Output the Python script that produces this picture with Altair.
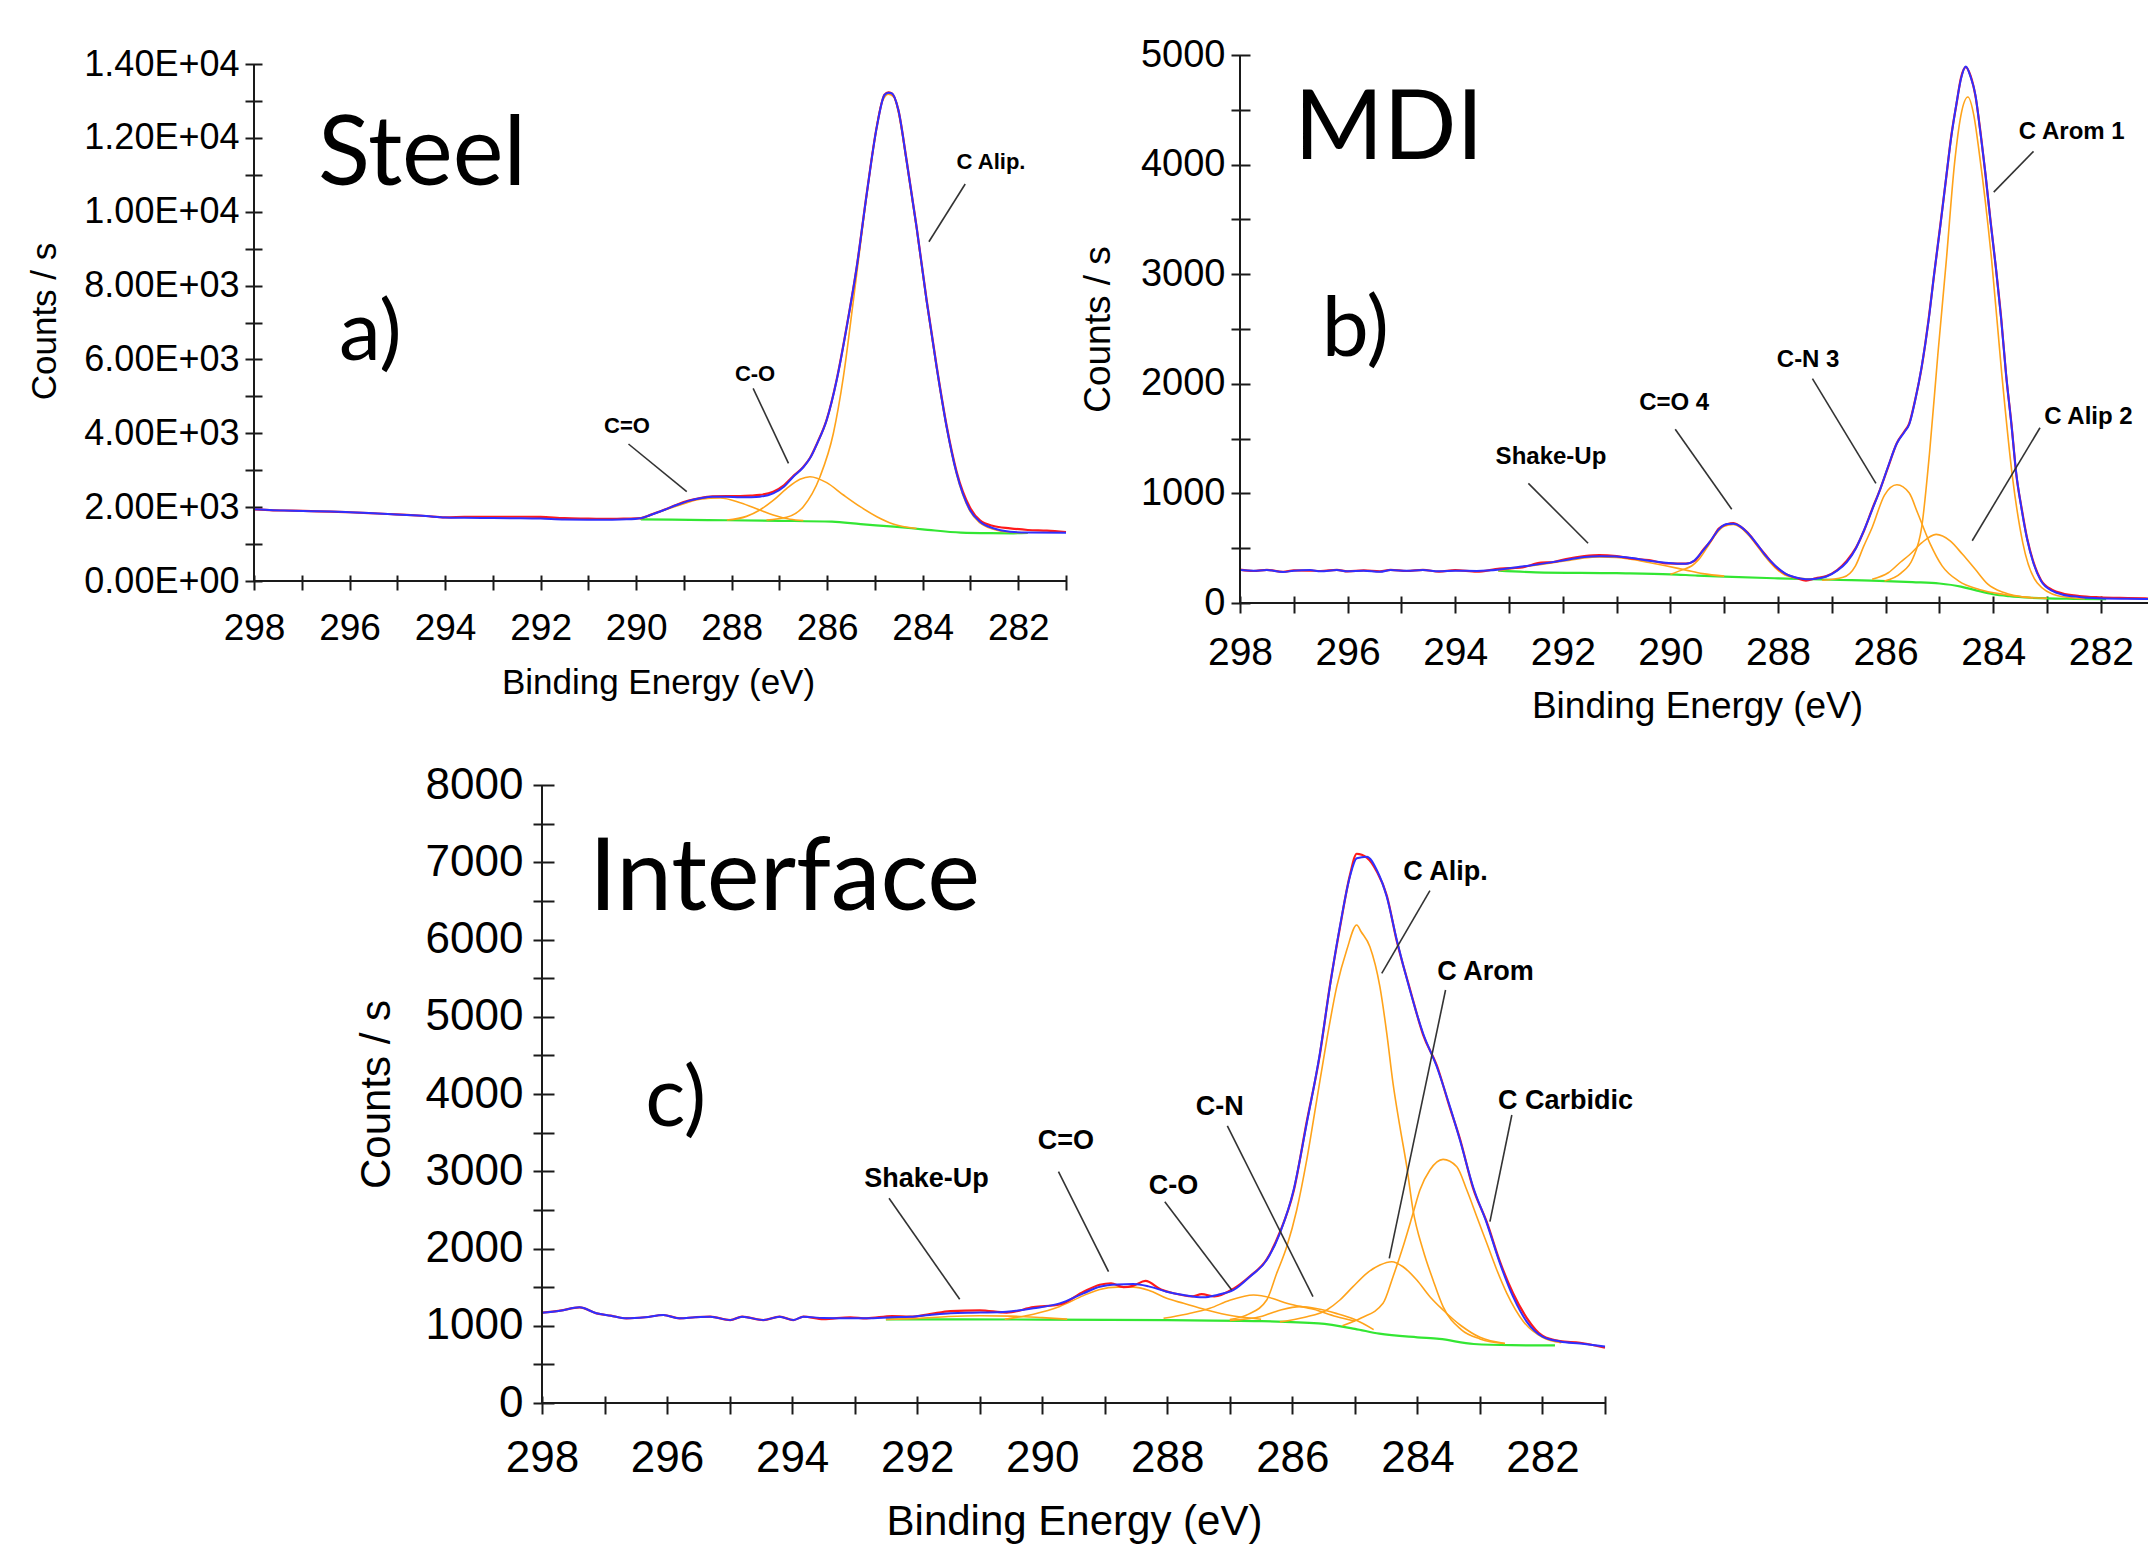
import altair as alt
import pandas as pd

# ======================= Panel a : Steel =======================
A_ENVELOPE = [(298.0, 1941), (297.6, 1915), (297.2, 1905), (296.8, 1890), (296.4, 1880), (296.0, 1862),
              (295.6, 1840), (295.2, 1814), (294.8, 1790), (294.4, 1760), (294.0, 1718), (293.6, 1710),
              (293.0, 1705), (292.5, 1700), (292.0, 1690), (291.5, 1665), (291.0, 1660), (290.5, 1662),
              (290.2, 1670), (289.9, 1700), (289.7, 1787), (289.4, 1930), (289.15, 2058), (288.9, 2170),
              (288.66, 2239), (288.4, 2283), (288.1, 2280), (287.82, 2266), (287.6, 2270), (287.41, 2283),
              (287.13, 2373), (286.9, 2560), (286.71, 2825), (286.5, 3080), (286.36, 3321), (286.2, 3750),
              (286.01, 4360), (285.8, 5443), (285.59, 6887), (285.38, 8511), (285.17, 10498), (284.96, 12303),
              (284.8, 13160), (284.72, 13220), (284.65, 13206), (284.51, 12754), (284.34, 11400), (284.13, 9594),
              (283.92, 7609), (283.71, 5803), (283.5, 4178), (283.29, 2916), (283.01, 1923), (282.8, 1606),
              (282.52, 1427), (282.17, 1336), (281.8, 1310), (281.0, 1305)]
A_RAW = [(298.0, 1941), (297.6, 1915), (297.2, 1905), (296.8, 1890), (296.4, 1880), (296.0, 1862),
         (295.6, 1840), (295.2, 1814), (294.8, 1790), (294.4, 1760), (294.0, 1725), (293.6, 1735),
         (293.0, 1740), (292.5, 1740), (292.0, 1735), (291.5, 1700), (291.0, 1690), (290.5, 1680),
         (290.2, 1690), (289.9, 1705), (289.7, 1790), (289.4, 1935), (289.15, 2065), (288.9, 2175),
         (288.66, 2245), (288.4, 2290), (288.1, 2300), (287.82, 2300), (287.6, 2310), (287.41, 2330),
         (287.13, 2420), (286.9, 2600), (286.71, 2840), (286.5, 3090), (286.36, 3330), (286.2, 3760),
         (286.01, 4370), (285.8, 5460), (285.59, 6900), (285.38, 8520), (285.17, 10510), (284.96, 12310),
         (284.8, 13170), (284.72, 13230), (284.65, 13210), (284.51, 12760), (284.34, 11420), (284.13, 9610),
         (283.92, 7630), (283.71, 5830), (283.5, 4210), (283.29, 2960), (283.01, 1990), (282.8, 1640),
         (282.52, 1489), (282.17, 1427), (281.8, 1381), (281.4, 1363), (281.0, 1327)]
A_BACKGROUND = [(289.9, 1670), (288.5, 1650), (287.0, 1630), (285.9, 1606), (285.3, 1540), (284.6, 1470),
                (284.0, 1400), (283.2, 1310), (282.6, 1295), (282.1, 1292), (281.8, 1300)]
A_COMP_C_DOUBLE_O = [(289.92, 1670), (289.5, 1877), (289.08, 2058), (288.66, 2212), (288.24, 2248),
                     (287.82, 2121), (287.41, 1923), (287.13, 1787), (286.78, 1670), (286.5, 1634)]
A_COMP_C_O = [(288.1, 1650), (287.69, 1750), (287.41, 1923), (287.13, 2180), (286.85, 2500), (286.57, 2753),
              (286.36, 2825), (286.01, 2663), (285.66, 2329), (285.31, 2013), (284.96, 1742), (284.62, 1544),
              (284.13, 1420)]
A_COMP_C_ALIP = [(287.27, 1652), (286.85, 1724), (286.5, 2013), (286.15, 2825), (285.87, 4000), (285.66, 5533),
                 (285.45, 7609), (285.24, 9775), (285.03, 11760), (284.86, 12935), (284.72, 13180), (284.6, 13100),
                 (284.51, 12700), (284.34, 11350), (284.13, 9540), (283.92, 7560), (283.71, 5760), (283.5, 4140),
                 (283.29, 2880), (283.01, 1890), (282.8, 1570), (282.52, 1400), (282.17, 1320), (281.8, 1305)]
A_NOTES = [("C Alip.", 282.57, 11346), ("C-O", 287.51, 5605), ("C=O", 290.19, 4197)]
A_LEADERS = [(283.11, 10750, 283.87, 9188), (287.55, 5218, 286.81, 3187), (290.16, 3710, 288.94, 2418)]
A_NAME = [("Steel", 296.66, 10723)]
A_TAG = [("a)", 296.22, 5984)]
A_X_TICKS = [298, 297, 296, 295, 294, 293, 292, 291, 290, 289, 288, 287, 286, 285, 284, 283, 282, 281]
A_X_LABELED = [298, 296, 294, 292, 290, 288, 286, 284, 282]
A_X_LABELS = ["298", "296", "294", "292", "290", "288", "286", "284", "282"]
A_Y_TICKS = [0, 1000, 2000, 3000, 4000, 5000, 6000, 7000, 8000, 9000, 10000, 11000, 12000, 13000, 14000]
A_Y_LABELED = [0, 2000, 4000, 6000, 8000, 10000, 12000, 14000]
A_Y_LABELS = ["0.00E+00", "2.00E+03", "4.00E+03", "6.00E+03", "8.00E+03", "1.00E+04", "1.20E+04", "1.40E+04"]

# ======================= Panel b : MDI =======================
B_ENVELOPE = [(298.0, 300), (297.75, 295), (297.5, 300), (297.2, 282), (297.0, 295), (296.7, 300), (296.5, 290),
              (296.2, 300), (296.0, 290), (295.7, 295), (295.4, 285), (295.2, 300), (294.9, 295), (294.6, 300),
              (294.3, 290), (294.0, 295), (293.6, 292), (293.17, 305), (292.8, 330), (292.4, 357), (291.94, 392),
              (291.6, 420), (291.32, 427), (291.0, 425), (290.71, 410), (290.4, 385), (290.09, 368), (289.71, 357),
              (289.55, 390), (289.4, 473), (289.25, 570), (289.1, 672), (288.95, 720), (288.83, 723), (288.7, 700),
              (288.56, 637), (288.4, 545), (288.25, 444), (288.05, 340), (287.87, 270), (287.65, 230), (287.48, 217),
              (287.3, 222), (287.1, 242), (286.9, 295), (286.72, 374), (286.55, 500), (286.41, 654), (286.25, 850),
              (286.1, 1038), (285.95, 1250), (285.79, 1457), (285.65, 1560), (285.56, 1631), (285.45, 1850),
              (285.33, 2155), (285.2, 2580), (285.1, 2994), (284.98, 3450), (284.87, 3901), (284.78, 4250),
              (284.68, 4565), (284.6, 4780), (284.51, 4896), (284.42, 4800), (284.33, 4634), (284.24, 4300),
              (284.14, 3901), (284.05, 3480), (283.95, 3063), (283.85, 2580), (283.76, 2086), (283.66, 1620),
              (283.57, 1178), (283.47, 850), (283.37, 584), (283.25, 360), (283.11, 200), (282.9, 110),
              (282.72, 78), (282.4, 55), (282.03, 43), (281.5, 38), (281.0, 35)]
B_RAW = [(298.0, 305), (297.75, 292), (297.5, 302), (297.2, 285), (297.0, 298), (296.7, 296), (296.5, 292),
         (296.2, 303), (296.0, 288), (295.7, 297), (295.4, 288), (295.2, 302), (294.9, 292), (294.6, 303),
         (294.3, 286), (294.0, 300), (293.6, 285), (293.17, 315), (292.8, 322), (292.4, 368), (292.2, 372),
         (291.94, 401), (291.6, 428), (291.32, 438), (291.0, 428), (290.71, 405), (290.4, 392), (290.09, 362),
         (289.71, 360), (289.55, 385), (289.4, 480), (289.25, 566), (289.1, 680), (288.95, 718), (288.83, 730),
         (288.7, 698), (288.56, 640), (288.4, 540), (288.25, 450), (288.05, 335), (287.87, 268), (287.65, 228),
         (287.48, 205), (287.3, 225), (287.1, 245), (286.9, 300), (286.72, 385), (286.55, 505), (286.41, 650),
         (286.25, 856), (286.1, 1040), (285.95, 1245), (285.79, 1460), (285.65, 1566), (285.56, 1640),
         (285.45, 1855), (285.33, 2150), (285.2, 2590), (285.1, 2990), (284.98, 3460), (284.87, 3895),
         (284.78, 4260), (284.68, 4560), (284.6, 4790), (284.51, 4890), (284.42, 4810), (284.33, 4625),
         (284.24, 4310), (284.14, 3890), (284.05, 3490), (283.95, 3055), (283.85, 2590), (283.76, 2080),
         (283.66, 1630), (283.57, 1170), (283.47, 860), (283.37, 590), (283.25, 370), (283.11, 208),
         (282.9, 120), (282.72, 88), (282.4, 64), (282.03, 52), (281.5, 45), (281.0, 40)]
B_BACKGROUND = [(293.2, 295), (292.5, 280), (291.0, 272), (290.0, 262), (289.5, 250), (289.0, 240), (288.0, 225),
                (287.0, 212), (286.0, 200), (285.5, 190), (285.0, 178), (284.6, 150), (284.3, 113), (284.0, 80),
                (283.7, 62), (283.3, 48), (283.0, 42), (282.5, 38), (281.9, 35)]
B_COMP_SHAKE_UP = [(293.2, 295), (292.8, 325), (292.4, 352), (291.94, 385), (291.6, 412), (291.32, 420),
                   (291.0, 415), (290.71, 398), (290.4, 370), (290.09, 340), (289.71, 300), (289.4, 268),
                   (289.0, 245)]
B_COMP_C_DOUBLE_O = [(290.0, 262), (289.79, 300), (289.6, 340), (289.48, 392), (289.3, 520), (289.17, 619),
                     (289.0, 700), (288.83, 716), (288.7, 690), (288.56, 625), (288.4, 530), (288.25, 430),
                     (288.05, 320), (287.87, 255), (287.6, 225), (287.33, 217)]
B_COMP_C_N = [(287.18, 207), (286.79, 234), (286.56, 339), (286.41, 514), (286.25, 689), (286.02, 985),
              (285.79, 1079), (285.56, 1003), (285.41, 828), (285.18, 549), (284.95, 339), (284.64, 200),
              (284.26, 123), (283.8, 78), (283.3, 50)]
B_COMP_C_ALIP = [(286.25, 217), (285.95, 276), (285.72, 374), (285.56, 438), (285.33, 549), (285.06, 626),
                 (284.8, 567), (284.57, 444), (284.33, 305), (284.1, 172), (283.8, 95), (283.41, 53), (283.0, 42)]
B_COMP_C_AROM = [(286.02, 200), (285.72, 270), (285.49, 410), (285.33, 689), (285.18, 1387), (285.03, 2260),
                 (284.87, 3133), (284.72, 4005), (284.6, 4450), (284.47, 4617), (284.36, 4450), (284.26, 4110),
                 (284.03, 3133), (283.84, 2086), (283.64, 1142), (283.45, 549), (283.18, 182), (282.8, 67),
                 (282.3, 40)]
B_NOTES = [("C Arom 1", 282.54, 4301), ("C-N 3", 287.44, 2214), ("C Alip 2", 282.23, 1698),
           ("C=O 4", 289.93, 1829), ("Shake-Up", 292.22, 1335)]
B_LEADERS = [(283.25, 4121, 283.99, 3749), (287.36, 2047, 286.18, 1092), (283.13, 1599, 284.39, 568),
             (289.91, 1585, 288.86, 855), (292.64, 1092, 291.53, 545)]
B_NAME = [("MDI", 296.99, 4051)]
B_TAG = [("b)", 296.48, 2254)]
B_X_TICKS = [298, 297, 296, 295, 294, 293, 292, 291, 290, 289, 288, 287, 286, 285, 284, 283, 282, 281]
B_X_LABELED = [298, 296, 294, 292, 290, 288, 286, 284, 282]
B_X_LABELS = ["298", "296", "294", "292", "290", "288", "286", "284", "282"]
B_Y_TICKS = [0, 500, 1000, 1500, 2000, 2500, 3000, 3500, 4000, 4500, 5000]
B_Y_LABELED = [0, 1000, 2000, 3000, 4000, 5000]
B_Y_LABELS = ["0", "1000", "2000", "3000", "4000", "5000"]

# ======================= Panel c : Interface =======================
C_ENVELOPE = [(298.0, 1169), (297.71, 1195), (297.4, 1239), (297.13, 1161), (296.9, 1130), (296.65, 1096),
              (296.35, 1110), (296.06, 1139), (295.8, 1096), (295.55, 1110), (295.31, 1117), (294.99, 1074),
              (294.8, 1117), (294.46, 1074), (294.2, 1117), (293.98, 1074), (293.82, 1117), (293.5, 1100),
              (293.07, 1096), (292.81, 1096), (292.4, 1110), (292.11, 1117), (291.8, 1140), (291.47, 1161),
              (291.0, 1170), (290.57, 1182), (290.14, 1226), (289.72, 1290), (289.34, 1420), (289.08, 1506),
              (288.8, 1535), (288.54, 1540), (288.3, 1510), (288.01, 1441), (287.74, 1398), (287.42, 1368),
              (287.2, 1400), (286.94, 1463), (286.68, 1635), (286.41, 1851), (286.2, 2197), (285.98, 2757),
              (285.77, 3621), (285.56, 4527), (285.4, 5389), (285.24, 6166), (285.08, 6813), (284.97, 7051),
              (284.81, 7072), (284.65, 6900), (284.49, 6554), (284.33, 5994), (284.12, 5346), (283.91, 4786),
              (283.69, 4353), (283.48, 3836), (283.32, 3405), (283.11, 2800), (282.89, 2326), (282.68, 1808),
              (282.47, 1376), (282.25, 1050), (282.0, 860), (281.72, 797), (281.4, 770), (281.0, 730)]
C_RAW = [(298.0, 1169), (297.71, 1195), (297.4, 1239), (297.13, 1161), (296.9, 1130), (296.65, 1096),
         (296.35, 1110), (296.06, 1139), (295.8, 1096), (295.55, 1110), (295.31, 1117), (294.99, 1074),
         (294.8, 1117), (294.46, 1074), (294.2, 1117), (293.98, 1074), (293.82, 1117), (293.5, 1085),
         (293.07, 1110), (292.81, 1096), (292.4, 1125), (292.11, 1117), (291.8, 1150), (291.47, 1190),
         (291.0, 1200), (290.57, 1170), (290.14, 1240), (289.72, 1275), (289.34, 1440), (289.08, 1530),
         (288.9, 1550), (288.7, 1500), (288.54, 1520), (288.35, 1580), (288.1, 1470), (287.9, 1420),
         (287.6, 1380), (287.45, 1410), (287.25, 1380), (286.94, 1480), (286.68, 1640), (286.41, 1860),
         (286.2, 2210), (285.98, 2740), (285.77, 3640), (285.56, 4510), (285.4, 5400), (285.24, 6150),
         (285.08, 6830), (284.97, 7110), (284.81, 7060), (284.65, 6880), (284.49, 6570), (284.33, 5980),
         (284.12, 5360), (283.91, 4770), (283.69, 4370), (283.48, 3820), (283.32, 3420), (283.11, 2780),
         (282.89, 2340), (282.68, 1830), (282.47, 1420), (282.25, 1100), (282.0, 870), (281.72, 800),
         (281.4, 780), (281.0, 715)]
C_BACKGROUND = [(292.5, 1083), (290.0, 1080), (288.0, 1072), (286.5, 1060), (285.58, 1031), (285.0, 960),
                (284.61, 897), (284.0, 850), (283.65, 830), (283.1, 764), (282.5, 748), (281.8, 745)]
C_COMP_SHAKE_UP = [(292.5, 1083), (292.0, 1095), (291.5, 1120), (291.0, 1130), (290.5, 1125), (290.0, 1105),
                   (289.6, 1085)]
C_COMP_C_DOUBLE_O = [(290.6, 1085), (290.14, 1150), (289.72, 1250), (289.34, 1390), (289.08, 1470),
                     (288.8, 1500), (288.54, 1500), (288.3, 1460), (288.01, 1355), (287.74, 1290),
                     (287.37, 1204), (286.94, 1126), (286.5, 1085)]
C_COMP_C_O = [(288.06, 1096), (287.7, 1150), (287.32, 1226), (287.0, 1330), (286.62, 1398), (286.3, 1350),
              (286.09, 1290), (285.66, 1213), (285.3, 1120), (285.0, 1060)]
C_COMP_C_N = [(287.0, 1070), (286.5, 1120), (286.2, 1200), (285.88, 1247), (285.6, 1220), (285.3, 1160),
              (285.0, 1080), (284.7, 950)]
C_COMP_C_ALIP = [(287.0, 1080), (286.7, 1150), (286.41, 1333), (286.25, 1679), (286.09, 2023), (285.93, 2498),
                 (285.77, 3146), (285.61, 3922), (285.45, 4699), (285.29, 5389), (285.13, 5864), (284.97, 6188),
                 (284.9, 6100), (284.76, 5907), (284.6, 5389), (284.49, 4786), (284.39, 4138), (284.28, 3577),
                 (284.17, 3059), (284.07, 2498), (283.91, 1981), (283.75, 1592), (283.59, 1247), (283.3, 950),
                 (283.0, 830), (282.6, 770)]
C_COMP_C_AROM = [(286.2, 1050), (285.8, 1110), (285.45, 1204), (285.24, 1333), (285.03, 1506), (284.81, 1679),
                 (284.6, 1786), (284.41, 1829), (284.23, 1764), (284.01, 1592), (283.8, 1376), (283.59, 1204),
                 (283.3, 1000), (283.0, 850), (282.6, 770)]
C_COMP_C_CARBIDIC = [(285.2, 1000), (284.9, 1100), (284.55, 1290), (284.39, 1635), (284.23, 2023),
                     (284.07, 2455), (283.96, 2757), (283.8, 3016), (283.59, 3154), (283.37, 3059),
                     (283.21, 2757), (283.05, 2412), (282.89, 2067), (282.73, 1722), (282.57, 1420),
                     (282.3, 1050), (282.0, 850), (281.7, 780)]
C_NOTES = [("C Alip.", 283.55, 6878), ("C Arom", 282.91, 5583), ("C Carbidic", 281.63, 3909),
           ("C-N", 287.16, 3836), ("C-O", 287.90, 2812), ("C=O", 289.62, 3388), ("Shake-Up", 291.85, 2897)]
C_LEADERS = [(283.80, 6632, 284.57, 5562), (283.55, 5346, 284.45, 1873), (282.49, 3728, 282.84, 2347),
             (287.04, 3586, 285.67, 1376), (288.04, 2606, 286.97, 1463), (289.74, 2994, 288.94, 1700),
             (292.45, 2650, 291.32, 1342)]
C_NAME = [("Interface", 297.25, 6387)]
C_TAG = [("c)", 296.35, 3592)]
C_X_TICKS = [298, 297, 296, 295, 294, 293, 292, 291, 290, 289, 288, 287, 286, 285, 284, 283, 282, 281]
C_X_LABELED = [298, 296, 294, 292, 290, 288, 286, 284, 282]
C_X_LABELS = ["298", "296", "294", "292", "290", "288", "286", "284", "282"]
C_Y_TICKS = [0, 500, 1000, 1500, 2000, 2500, 3000, 3500, 4000, 4500, 5000, 5500, 6000, 6500, 7000, 7500, 8000]
C_Y_LABELED = [0, 1000, 2000, 3000, 4000, 5000, 6000, 7000, 8000]
C_Y_LABELS = ["0", "1000", "2000", "3000", "4000", "5000", "6000", "7000", "8000"]

X_TITLE = "Binding Energy (eV)"
Y_TITLE = "Counts / s"

# ---------------- styling / layout (pixels, not data) ----------------
CANVAS_W, CANVAS_H = 2148, 1546
AXIS_FONT = "Liberation Sans"
BIG_FONT = "Lato"
INK = "#1a1a1a"
COL_RAW, COL_ENV, COL_COMP, COL_BG = "#ff1a1a", "#2f2fff", "#ffa31a", "#33e633"


def curve(pairs, name):
    return pd.DataFrame(pairs, columns=["E", "v"]).assign(curve=name)


def label_expr(values, labels):
    expr = "''"
    for val, lab in reversed(list(zip(values, labels))):
        expr = f"datum.value == {val} ? '{lab}' : ({expr})"
    return expr


def panel_layers(p):
    xd = [p["xticks"][0], p["xticks"][-1]]
    yd = [p["yticks"][0], p["yticks"][-1]]

    def xs():
        return alt.Scale(domain=xd, range=p["xrange"], nice=False, zero=False)

    def ys():
        return alt.Scale(domain=yd, range=p["yrange"], nice=False, zero=False)

    ax_line_y = p["yrange"][0]
    ax_line_x = p["xrange"][0]
    xgroup = ax_line_y - p["x_in"]
    ygroup = ax_line_x + p["y_in"]

    x_axis = alt.Axis(
        orient="bottom", offset=xgroup - CANVAS_H, values=p["xticks"],
        labelExpr=label_expr(p["xlab_vals"], p["xlabs"]),
        domain=False, grid=False, tickSize=p["x_in"] + p["x_out"], tickWidth=2, tickColor=INK,
        labelFont=AXIS_FONT, labelFontSize=p["xlab_fs"], labelColor="#000", labelPadding=p["x_pad"],
        labelFlush=False, labelOverlap=False, labelAngle=0,
        title=X_TITLE, titleFont=AXIS_FONT, titleFontSize=p["title_fs"], titleFontWeight="normal",
        titleColor="#000", titleX=p["xtitle_x"], titleY=p["xtitle_y"] - xgroup, titleAlign="center",
        titleBaseline="middle", titleAngle=0,
    )
    y_axis = alt.Axis(
        orient="left", offset=-ygroup, values=p["yticks"],
        labelExpr=label_expr(p["ylab_vals"], p["ylabs"]),
        domain=False, grid=False, tickSize=p["y_in"] + p["y_out"], tickWidth=2, tickColor=INK,
        labelFont=AXIS_FONT, labelFontSize=p["ylab_fs"], labelColor="#000", labelPadding=p["y_pad"],
        labelFlush=False, labelOverlap=False,
        title=Y_TITLE, titleFont=AXIS_FONT, titleFontSize=p["title_fs"], titleFontWeight="normal",
        titleColor="#000", titleX=p["ytitle_x"] - ygroup, titleY=p["ytitle_y"], titleAlign="center",
        titleBaseline="middle", titleAngle=270,
    )

    def line(df, color, width, first=False):
        return alt.Chart(df).mark_line(color=color, strokeWidth=width, interpolate="monotone").encode(
            x=alt.X("E:Q", scale=xs(), axis=x_axis if first else None),
            y=alt.Y("v:Q", scale=ys(), axis=y_axis if first else None),
            detail="curve:N",
            order=alt.Order("E:Q", sort="descending"),
        )

    bg = line(curve(p["bg"], "bg"), COL_BG, 2.2, first=True)
    comps = line(pd.concat([curve(c, f"c{i}") for i, c in enumerate(p["comps"])]), COL_COMP, 1.6)
    raw = line(curve(p["raw"], "raw"), COL_RAW, 2.2)
    env = line(curve(p["env"], "env"), COL_ENV, 2.0)

    frame = pd.DataFrame({"E": [xd[0], xd[0]], "E2": [xd[1], xd[0]], "v": [yd[0], yd[0]], "v2": [yd[0], yd[1]]})
    axes_lines = alt.Chart(frame).mark_rule(color=INK, strokeWidth=2).encode(
        x=alt.X("E:Q", scale=xs(), axis=None), x2="E2:Q",
        y=alt.Y("v:Q", scale=ys(), axis=None), y2="v2:Q")

    lead = pd.DataFrame(p["leaders"], columns=["E", "v", "E2", "v2"])
    leaders = alt.Chart(lead).mark_rule(color="#333333", strokeWidth=1.6).encode(
        x=alt.X("E:Q", scale=xs(), axis=None), x2="E2:Q",
        y=alt.Y("v:Q", scale=ys(), axis=None), y2="v2:Q")

    notes = alt.Chart(pd.DataFrame(p["notes"], columns=["t", "E", "v"])).mark_text(
        font=AXIS_FONT, fontWeight="bold", fontSize=p["note_fs"], color="#000",
        align="center", baseline="middle").encode(
        x=alt.X("E:Q", scale=xs(), axis=None), y=alt.Y("v:Q", scale=ys(), axis=None), text="t:N")

    name = alt.Chart(pd.DataFrame(p["name"], columns=["t", "E", "v"])).mark_text(
        font=BIG_FONT, fontSize=p["name_fs"], color="#000", align="left", baseline="alphabetic").encode(
        x=alt.X("E:Q", scale=xs(), axis=None), y=alt.Y("v:Q", scale=ys(), axis=None), text="t:N")
    tag = alt.Chart(pd.DataFrame(p["tag"], columns=["t", "E", "v"])).mark_text(
        font=BIG_FONT, fontSize=p["tag_fs"], color="#000", align="left", baseline="alphabetic").encode(
        x=alt.X("E:Q", scale=xs(), axis=None), y=alt.Y("v:Q", scale=ys(), axis=None), text="t:N")

    return [bg, comps, raw, env, axes_lines, leaders, notes, name, tag]


PA = dict(env=A_ENVELOPE, raw=A_RAW, bg=A_BACKGROUND, comps=[A_COMP_C_DOUBLE_O, A_COMP_C_O, A_COMP_C_ALIP],
          notes=A_NOTES, leaders=A_LEADERS, name=A_NAME, tag=A_TAG,
          xticks=A_X_TICKS, xlab_vals=A_X_LABELED, xlabs=A_X_LABELS,
          yticks=A_Y_TICKS, ylab_vals=A_Y_LABELED, ylabs=A_Y_LABELS,
          xrange=[254, 1066], yrange=[581, 64], x_in=6, x_out=9, y_in=8, y_out=9, x_pad=20, y_pad=6,
          xlab_fs=37, ylab_fs=36, title_fs=35, note_fs=22, name_fs=96, tag_fs=84,
          xtitle_x=658, xtitle_y=682, ytitle_x=44, ytitle_y=321)
PB = dict(env=B_ENVELOPE, raw=B_RAW, bg=B_BACKGROUND,
          comps=[B_COMP_SHAKE_UP, B_COMP_C_DOUBLE_O, B_COMP_C_N, B_COMP_C_ALIP, B_COMP_C_AROM],
          notes=B_NOTES, leaders=B_LEADERS, name=B_NAME, tag=B_TAG,
          xticks=B_X_TICKS, xlab_vals=B_X_LABELED, xlabs=B_X_LABELS,
          yticks=B_Y_TICKS, ylab_vals=B_Y_LABELED, ylabs=B_Y_LABELS,
          xrange=[1240, 2154.6], yrange=[603, 55], x_in=7, x_out=10, y_in=10, y_out=9, x_pad=20, y_pad=6,
          xlab_fs=39, ylab_fs=38, title_fs=37, note_fs=24, name_fs=96, tag_fs=84,
          xtitle_x=1697, xtitle_y=706, ytitle_x=1098, ytitle_y=329)
PC = dict(env=C_ENVELOPE, raw=C_RAW, bg=C_BACKGROUND,
          comps=[C_COMP_SHAKE_UP, C_COMP_C_DOUBLE_O, C_COMP_C_O, C_COMP_C_N, C_COMP_C_ALIP, C_COMP_C_AROM,
                 C_COMP_C_CARBIDIC],
          notes=C_NOTES, leaders=C_LEADERS, name=C_NAME, tag=C_TAG,
          xticks=C_X_TICKS, xlab_vals=C_X_LABELED, xlabs=C_X_LABELS,
          yticks=C_Y_TICKS, ylab_vals=C_Y_LABELED, ylabs=C_Y_LABELS,
          xrange=[542, 1605], yrange=[1403, 785], x_in=7, x_out=11, y_in=12, y_out=9, x_pad=22, y_pad=10,
          xlab_fs=44, ylab_fs=44, title_fs=42, note_fs=27, name_fs=100, tag_fs=84,
          xtitle_x=1074, xtitle_y=1521, ytitle_x=376, ytitle_y=1094)

layers = panel_layers(PA) + panel_layers(PB) + panel_layers(PC)

chart = alt.layer(*layers).resolve_scale(
    x="independent", y="independent"
).properties(
    width=CANVAS_W, height=CANVAS_H, padding=0, autosize=alt.AutoSizeParams(type="none"),
    background="white",
).configure_view(stroke=None)

chart.save("out.html", embed_options={"renderer": "svg", "actions": False})
